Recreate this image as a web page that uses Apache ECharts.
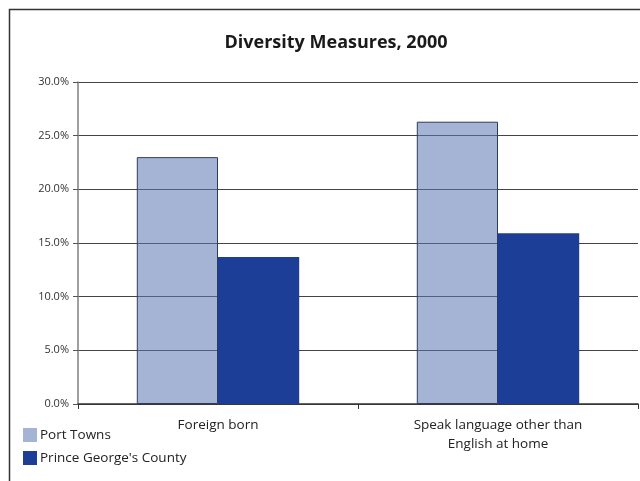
<!DOCTYPE html>
<html>
<head>
<meta charset="utf-8">
<style>
  html, body { margin: 0; padding: 0; background: #fff; }
  #chart { width: 640px; height: 481px; }
</style>
<script src="https://cdn.jsdelivr.net/npm/echarts@6/dist/echarts.min.js"></script>
</head>
<body>
<div id="chart"></div>
<script>
// Share of residents (%), Census 2000
const categories = ['Foreign born', 'Speak language other than\nEnglish at home'];
const portTowns = [23.0, 26.3];
const princeGeorges = [13.7, 15.9];
const seriesNames = ['Port Towns', "Prince George's County"];

const FONT = '"Open Sans", "DejaVu Sans", sans-serif';

const chart = echarts.init(document.getElementById('chart'));
chart.setOption({
  animation: false,
  backgroundColor: '#ffffff',
  title: {
    text: 'Diversity Measures, 2000',
    left: 331,
    textAlign: 'center',
    top: 29,
    textStyle: { fontFamily: FONT, fontSize: 18, fontWeight: 'bold', color: '#1a1a1a' }
  },
  graphic: [{
    type: 'rect',
    shape: { x: 9.5, y: 9.5, width: 700, height: 600 },
    style: { fill: 'none', stroke: '#333', lineWidth: 1.5 },
    silent: true
  }],
  legend: {
    orient: 'vertical',
    left: 23,
    top: 428,
    padding: 0,
    itemWidth: 14,
    itemHeight: 14,
    itemGap: 9,
    icon: 'rect',
    textStyle: { fontFamily: FONT, fontSize: 13.5, color: '#222', padding: [0, 0, 0, -2] },
    data: [
      { name: seriesNames[0], itemStyle: { color: '#A5B4D5', borderWidth: 0 } },
      { name: seriesNames[1], itemStyle: { color: '#1C3E96', borderWidth: 0 } }
    ]
  },
  grid: { left: 78, right: 2, top: 82, bottom: 77 },
  xAxis: {
    type: 'category',
    data: categories,
    axisLine: { lineStyle: { color: '#333', width: 1.5 } },
    axisTick: { show: true, length: 5, alignWithLabel: false, lineStyle: { color: '#333' } },
    axisLabel: { fontFamily: FONT, fontSize: 13.5, color: '#222', margin: 12, lineHeight: 19 }
  },
  yAxis: {
    type: 'value',
    min: 0,
    max: 30,
    interval: 5,
    axisLine: { show: true, lineStyle: { color: '#808080', width: 1.5 } },
    axisTick: { show: true, length: 5, lineStyle: { color: '#555' } },
    splitLine: { lineStyle: { color: '#444', width: 1 } },
    axisLabel: {
      fontFamily: FONT, fontSize: 11, color: '#333', margin: 9,
      formatter: v => v.toFixed(1) + '%'
    }
  },
  series: [
    {
      name: seriesNames[0],
      type: 'bar',
      data: portTowns,
      barGap: '0%',
      barCategoryGap: '42%',
      itemStyle: { color: 'rgba(91,119,179,0.55)', borderColor: '#2f3b5c', borderWidth: 1 }
    },
    {
      name: seriesNames[1],
      type: 'bar',
      data: princeGeorges,
      barGap: '0%',
      barCategoryGap: '42%',
      itemStyle: { color: '#1C3E96' }
    }
  ]
});
</script>
</body>
</html>
